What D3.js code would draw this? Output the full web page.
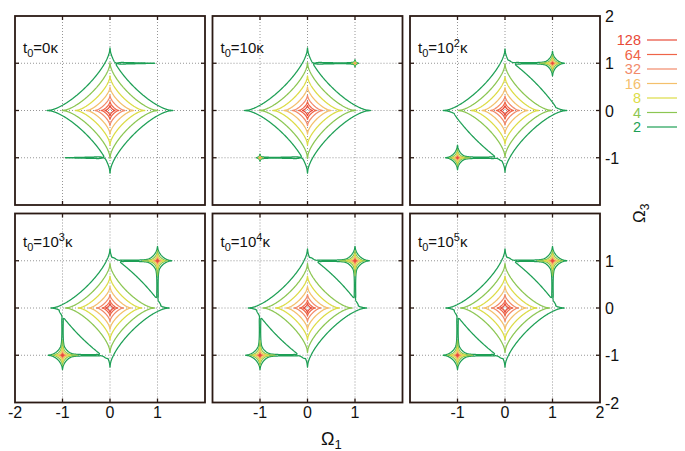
<!DOCTYPE html>
<html>
<head>
<meta charset="utf-8">
<script src="https://cdn.jsdelivr.net/npm/d3@7"></script>
<style>
body { margin: 0; background: #fff; }
text { font-family: "Liberation Sans", Arial, sans-serif; }
</style>
</head>
<body>
<svg id="chart" width="685" height="451"></svg>
<script>
// contour levels (legend) and colours
var levels = [2, 4, 8, 16, 32, 64, 128];
var levelColors = ["#1d9f55", "#8cc652", "#dcdc46", "#f4c06c", "#f28a6a", "#ef6448", "#e84a38"];

// panel labels t0 = base^exp kappa
var labelBase = ["0", "10", "10", "10", "10", "10"];
var labelExp = ["", "", "2", "3", "4", "5"];

// field parameters
var starScale = [1, 1, 0.95, 0.85, 0.85, 0.85];       // height of the central star
var peakAmp = [0, 0.19, 1.4, 2.1, 2.1, 2.1];          // peaks at (1,1) and (-1,-1)
var shelf = [0, 0, 1.15, 1.15, 1.15, 1.15];           // level-2 edge in the 1st/3rd quadrant
var ridgeH = [1.9, 1.9, 1.9, 1.9, 1.9, 1.9];          // ridge along y = +-1
var ridgeV = [0, 0, 0, 1.9, 1.9, 1.9];                // ridge along x = +-1

var gridTicks = [-1, 0, 1];
var rightLabels = [[2, 1, 0, -1], [1, 0, -1, -2]];
var bottomLabels = [[-2, -1, 0, 1], [-1, 0, 1], [-1, 0, 1, 2]];

var svg = d3.select("#chart");
var colX = [15, 212.5, 410], rowY = [16, 213.5];
var pw = 190, ph = 189;
var n = 400, N = n + 1, step = 4 / n;

function pnorm(x, y, p){
	return Math.pow(Math.pow(Math.abs(x), p) + Math.pow(Math.abs(y), p), 1 / p);
}
function sig(t){ return 1 / (1 + Math.exp(-t)); }
function win(t){ return sig((t - 0.2) / 0.03) * sig((1 - t) / 0.02); }

function field(k, x, y){
	var r1 = Math.max(pnorm(x, y, 0.8), 0.004);
	var r2 = Math.max(pnorm(x, y, 0.5), 0.004);
	var v = starScale[k] * (11.4 * Math.exp(-1.39 * r1) / r1 + 4.2 * Math.exp(-1.2 * r2) / r2);
	if(shelf[k] > 0){
		var d = 2.6 * (sig((shelf[k] - x - y + 0.27 * x * y) / 0.02) * sig(x / 0.03) * sig(y / 0.03)
			+ sig((shelf[k] + x + y + 0.27 * x * y) / 0.02) * sig(-x / 0.03) * sig(-y / 0.03));
		v = Math.max(v, d);
	}
	[1, -1].forEach(function(s){
		if(peakAmp[k] > 0){
			var rp = Math.max(pnorm(x - s, y - s, 0.6), 0.004);
			v += peakAmp[k] * Math.exp(-4.2 * rp) / rp;
		}
		v += ridgeH[k] * win(s * x) * Math.exp(-Math.pow((y - s) / 0.02, 2));
		v += ridgeV[k] * win(s * y) * Math.exp(-Math.pow((x - s) / 0.02, 2));
	});
	return v;
}

var contours = d3.contours().size([N, N]).thresholds(levels);

for(var k = 0; k < 6; k++){
	var col = k % 3, row = Math.floor(k / 3);
	var x0 = colX[col], y0 = rowY[row];
	var x = d3.scaleLinear().domain([-2, 2]).range([x0, x0 + pw]);
	var y = d3.scaleLinear().domain([-2, 2]).range([y0 + ph, y0]);
	var g = svg.append("g");

	// dotted grid
	gridTicks.forEach(function(t){
		g.append("line").attr("x1", x(t)).attr("x2", x(t)).attr("y1", y0).attr("y2", y0 + ph)
			.attr("stroke", "#8a8a8a").attr("stroke-width", 0.9).attr("stroke-dasharray", "1,2");
		g.append("line").attr("y1", y(t)).attr("y2", y(t)).attr("x1", x0).attr("x2", x0 + pw)
			.attr("stroke", "#8a8a8a").attr("stroke-width", 0.9).attr("stroke-dasharray", "1,2");
	});

	var values = new Float64Array(N * N);
	for(var j = 0; j < N; j++){
		for(var i = 0; i < N; i++){
			values[j * N + i] = field(k, -2 + i * step, 2 - j * step);
		}
	}
	// value i sits at contour coordinate i + 0.5
	var proj = d3.geoTransform({point: function(cx, cy){
		this.stream.point(x(-2 + (cx - 0.5) * step), y(2 - (cy - 0.5) * step));
	}});
	var path = d3.geoPath(proj);
	g.selectAll("path.c").data(contours(values)).enter().append("path")
		.attr("class", "c")
		.attr("d", path)
		.attr("fill", "none")
		.attr("stroke", function(d){ return levelColors[levels.indexOf(d.value)]; })
		.attr("stroke-width", 1.25)
		.attr("stroke-linejoin", "round");

	// frame and inward ticks
	g.append("rect").attr("x", x0).attr("y", y0).attr("width", pw).attr("height", ph)
		.attr("fill", "none").attr("stroke", "#2b1a14").attr("stroke-width", 1.8);
	gridTicks.forEach(function(t){
		var tk = [[x(t), y0, x(t), y0 + 4], [x(t), y0 + ph, x(t), y0 + ph - 4],
			[x0, y(t), x0 + 4, y(t)], [x0 + pw, y(t), x0 + pw - 4, y(t)]];
		tk.forEach(function(a){
			g.append("line").attr("x1", a[0]).attr("y1", a[1]).attr("x2", a[2]).attr("y2", a[3])
				.attr("stroke", "#2b1a14").attr("stroke-width", 1.3);
		});
	});

	// panel label
	var lab = g.append("text").attr("x", x0 + 8).attr("y", y0 + (row == 0 ? 37 : 33.5))
		.attr("font-size", 15).attr("fill", "#111");
	lab.append("tspan").text("t");
	lab.append("tspan").attr("dy", 4).attr("font-size", 11).text("0");
	lab.append("tspan").attr("dy", -4).text("=" + labelBase[k]);
	if(labelExp[k]){
		lab.append("tspan").attr("dy", -6).attr("font-size", 11).text(labelExp[k]);
		lab.append("tspan").attr("dy", 6).text("\u03ba");
	} else {
		lab.append("tspan").text("\u03ba");
	}

	// right axis labels
	if(col == 2){
		rightLabels[row].forEach(function(t){
			svg.append("text").attr("x", x0 + pw + 5).attr("y", y(t) + 6)
				.attr("font-size", 16).attr("fill", "#111").text(t);
		});
	}
	// bottom axis labels
	if(row == 1){
		bottomLabels[col].forEach(function(t){
			svg.append("text").attr("x", x(t)).attr("y", 418).attr("text-anchor", "middle")
				.attr("font-size", 16).attr("fill", "#111").text(t);
		});
	}
}

// axis titles
var t1 = svg.append("text").attr("x", 321).attr("y", 445).attr("font-size", 18).attr("fill", "#111");
t1.append("tspan").text("\u03a9");
t1.append("tspan").attr("dy", 4).attr("font-size", 13).text("1");
var t3 = svg.append("text").attr("transform", "translate(645,223) rotate(-90)")
	.attr("font-size", 17).attr("fill", "#111");
t3.append("tspan").text("\u03a9");
t3.append("tspan").attr("dy", 4).attr("font-size", 12).text("3");

// legend
var leg = svg.append("g");
levels.slice().reverse().forEach(function(lv, i){
	var c = levelColors[levels.indexOf(lv)];
	var yy = 40 + i * 14.5;
	leg.append("text").attr("x", 641).attr("y", yy + 5).attr("text-anchor", "end")
		.attr("font-size", 14.5).attr("fill", c).text(lv);
	leg.append("line").attr("x1", 647).attr("x2", 677).attr("y1", yy).attr("y2", yy)
		.attr("stroke", c).attr("stroke-width", 1.2);
});
</script>
</body>
</html>
